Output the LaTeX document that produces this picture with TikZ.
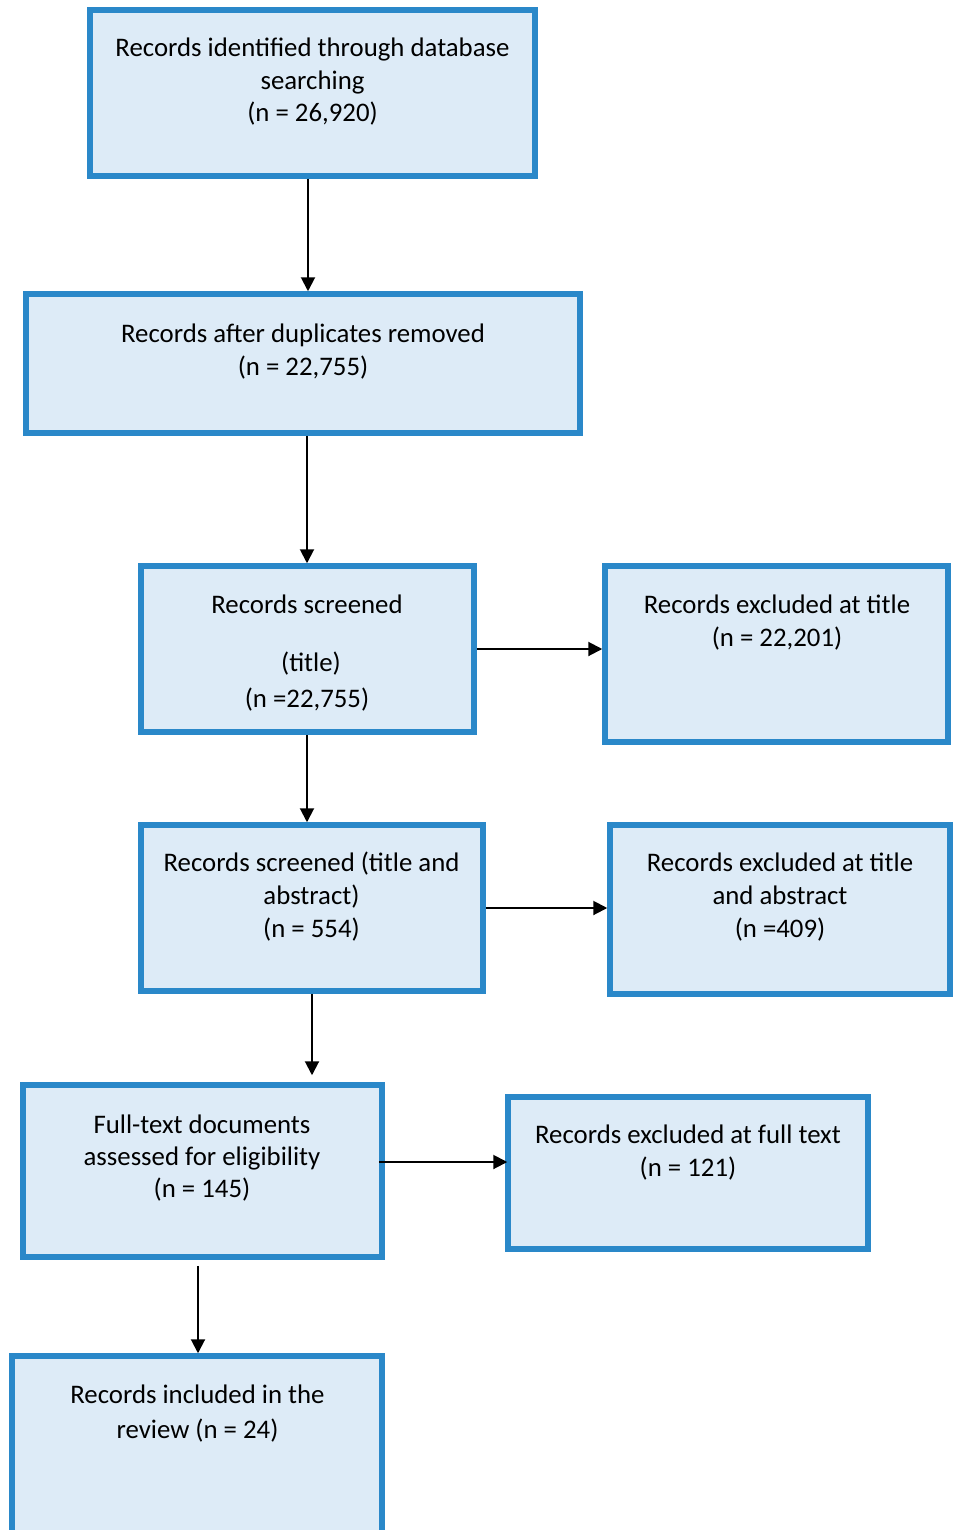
\documentclass[tikz,border=0pt]{standalone}
\usepackage{fontspec}
\setmainfont{Carlito}
\usetikzlibrary{arrows.meta}
\definecolor{bordblue}{HTML}{2A88C9}
\definecolor{fillblue}{HTML}{DDEBF7}
\tikzset{
  box/.style={draw=bordblue, fill=fillblue, line width=5.5pt, rectangle, inner sep=0pt, anchor=north west},
  txt/.style={align=center, inner sep=0pt, font=\fontsize{26.8pt}{32.5pt}\selectfont, anchor=base},
  arr/.style={line width=2pt, -{Triangle[width=14pt,length=14pt]}}
}
\begin{document}
\begin{tikzpicture}[x=1pt,y=-1pt]
\useasboundingbox (0,0) rectangle (954,1530);
\clip (0,0) rectangle (954,1530);
\node[box, minimum width=445pt, minimum height=166pt] (b1) at (87.25,7.25) {};
\node[box, minimum width=554pt, minimum height=139pt] (b2) at (23.25,291.25) {};
\node[box, minimum width=333pt, minimum height=166pt] (b3) at (138.25,563.25) {};
\node[box, minimum width=343pt, minimum height=176pt] (b4) at (602.25,563.25) {};
\node[box, minimum width=342pt, minimum height=166pt] (b5) at (138.25,822.25) {};
\node[box, minimum width=340pt, minimum height=169pt] (b6) at (607.25,822.25) {};
\node[box, minimum width=359pt, minimum height=172pt] (b7) at (20.25,1082.25) {};
\node[box, minimum width=360pt, minimum height=152pt] (b8) at (505.25,1094.25) {};
\node[box, minimum width=370pt, minimum height=204pt] (b9) at (9.25,1353.25) {};

\node[txt] (t1) at (312.5,121.7) {Records identified through database\\searching\\(n = 26,920)};
\node[txt] (t2) at (303,375) {Records after duplicates removed\\(n = 22,755)};
\node[txt] (t3) at (307,707.5) {Records screened\\[25.5pt]\hspace*{8pt}(title)\\[3.5pt](n =22,755)};
\node[txt] (t4) at (777,646) {Records excluded at title\\(n = 22,201)};
\node[txt] (t5) at (311.5,937.5) {Records screened (title and\\[0.5pt]abstract)\\[0.5pt](n = 554)};
\node[txt] (t6) at (780,937.5) {Records excluded at title\\[0.5pt]and abstract\\[0.5pt](n =409)};
\node[txt] (t7) at (202,1197.5) {Full-text documents\\[-0.5pt]assessed for eligibility\\[-0.5pt](n = 145)};
\node[txt] (t8) at (688,1176.5) {Records excluded at full text\\[0.5pt](n = 121)};
\node[txt] (t9) at (197.5,1438.3) {Records included in the\\[2.5pt]review (n = 24)};

\draw[arr] ([xshift=-4.5pt]b1.south) -- ([xshift=5pt]b2.north);
\draw[arr] ([xshift=4pt]b2.south) -- ([xshift=-0.5pt]b3.north);
\draw[arr] ([xshift=-0.5pt]b3.south) -- ([xshift=-5pt]b5.north);
\draw[arr] ([xshift=0pt]b5.south) -- ([xshift=109.5pt,yshift=7pt]b7.north);
\draw[arr] ([xshift=-4.5pt,yshift=-6pt]b7.south) -- ([xshift=1pt]b9.north);
\draw[arr] (b3.east |- 0,649) -- (b4.west |- 0,649);
\draw[arr] (b5.east |- 0,908) -- (b6.west |- 0,908);
\draw[arr] ([xshift=-6pt]b7.east |- 0,1162) -- ([xshift=2pt]b8.west |- 0,1162);
\end{tikzpicture}
\end{document}
